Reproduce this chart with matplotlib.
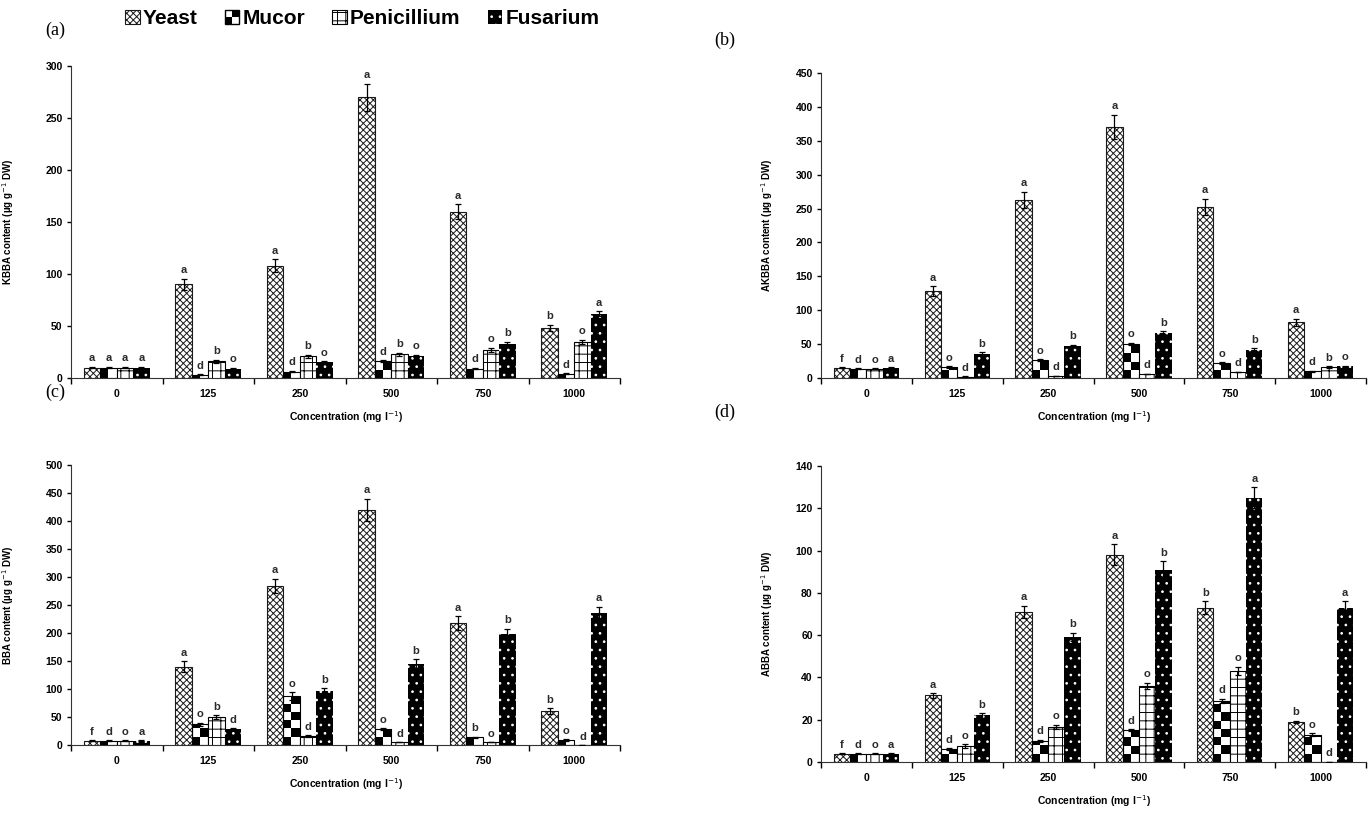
import numpy as np
import matplotlib
matplotlib.use("Agg")
import matplotlib.pyplot as plt
from matplotlib.patches import Rectangle
from matplotlib.legend_handler import HandlerBase

plt.rcParams['font.family'] = ['Liberation Sans', 'DejaVu Sans']
plt.rcParams['hatch.linewidth'] = 0.7

# categories
conc = ['0', '125', '250', '500', '750', '1000']
fungi = ['Yeast', 'Mucor', 'Penicillium', 'Fusarium']

# (a) KBBA
kbba_vals = [
    [10, 90, 108, 270, 160, 48],
    [10, 3, 6, 16, 9, 4],
    [10, 16, 21, 23, 27, 35],
    [10, 9, 15, 21, 33, 62],
]
kbba_err = [
    [0.5, 5, 6, 13, 7, 3],
    [0.5, 0.5, 0.5, 1, 0.5, 0.5],
    [0.5, 1.5, 1.5, 1.5, 2, 2],
    [0.5, 0.5, 1, 1, 1.5, 2],
]
kbba_let = [
    ['a', 'a', 'a', 'a', 'a', 'b'],
    ['a', 'd', 'd', 'd', 'd', 'd'],
    ['a', 'b', 'b', 'b', 'o', 'o'],
    ['a', 'o', 'o', 'o', 'b', 'a'],
]

# (b) AKBBA
akbba_vals = [
    [15, 128, 263, 370, 252, 82],
    [14, 16, 26, 50, 22, 10],
    [14, 2, 3, 6, 9, 16],
    [15, 36, 47, 67, 42, 17],
]
akbba_err = [
    [0.5, 7, 12, 18, 12, 5],
    [0.5, 1, 1.5, 2, 1, 0.5],
    [0.5, 0.3, 0.3, 0.5, 0.5, 1],
    [0.5, 2, 2, 2, 2, 1],
]
akbba_let = [
    ['f', 'a', 'a', 'a', 'a', 'a'],
    ['d', 'o', 'o', 'o', 'o', 'd'],
    ['o', 'd', 'd', 'd', 'd', 'b'],
    ['a', 'b', 'b', 'b', 'b', 'o'],
]

# (c) BBA
bba_vals = [
    [8, 140, 284, 420, 218, 61],
    [8, 37, 87, 28, 14, 9],
    [8, 50, 16, 5, 5, 0],
    [8, 28, 96, 145, 198, 235],
]
bba_err = [
    [0.5, 10, 13, 20, 12, 5],
    [0.5, 3, 7, 2, 1, 1],
    [0.5, 3, 2, 0.5, 0.5, 0],
    [0.5, 2, 5, 8, 10, 12],
]
bba_let = [
    ['f', 'a', 'a', 'a', 'a', 'b'],
    ['d', 'o', 'o', 'o', 'b', 'o'],
    ['o', 'b', 'd', 'd', 'o', 'd'],
    ['a', 'd', 'b', 'b', 'b', 'a'],
]

# (d) ABBA
abba_vals = [
    [4, 31.5, 71, 98, 73, 19],
    [4, 6, 10, 15, 29, 13],
    [4, 7.5, 16.5, 36, 43, 0],
    [4, 22, 59, 91, 125, 73],
]
abba_err = [
    [0.2, 1, 3, 5, 3, 0.5],
    [0.2, 0.5, 0.5, 0.5, 1, 0.5],
    [0.2, 0.8, 1, 1.5, 2, 0],
    [0.2, 1, 2, 4, 5, 3],
]
abba_let = [
    ['f', 'a', 'a', 'a', 'b', 'b'],
    ['d', 'd', 'd', 'd', 'd', 'o'],
    ['o', 'o', 'o', 'o', 'o', 'd'],
    ['a', 'b', 'b', 'b', 'a', 'a'],
]

styles = {
    'Yeast': dict(fc='white', ec='#1a1a1a', hatch='xxxxx', lw=0.8),
    'Mucor': dict(fc='none', ec='black', hatch=None, lw=0.8),
    'Penicillium': dict(fc='white', ec='black', hatch='++', lw=0.8),
    'Fusarium': dict(fc='black', ec='white', hatch='..', lw=0),
}

tick_font = dict(family=['Liberation Sans', 'DejaVu Sans'], weight='bold', size=7.5)


def add_checker(ax, rect):
    # checkerboard fill for Mucor bars, clipped to the bar
    h = rect.get_height()
    if h <= 0:
        return
    x0, wd = rect.get_x(), rect.get_width()
    o = ax.transData.transform((0, 0))
    px_y = ax.transData.transform((0, 1))[1] - o[1]
    px_w = ax.transData.transform((wd, 0))[0] - o[0]
    sq = (px_w / 2) / px_y
    rows = int(np.ceil(h / sq))
    board = np.add.outer(np.arange(rows), np.arange(2)) % 2
    im = ax.imshow(board, extent=(x0, x0 + wd, 0, rows * sq), origin='lower',
                   cmap='gray', vmin=0, vmax=1, interpolation='nearest',
                   aspect='auto', zorder=2)
    im.set_clip_path(rect)


def draw_panel(ax, vals, errs, letters, ymax, ystep, ylabel, lab_x):
    n = len(conc)
    x = np.arange(n)
    w = 0.18
    offsets = (np.arange(len(fungi)) - 1.5) * w
    ax.set_xlim(-0.5, n - 0.5)
    ax.set_ylim(0, ymax)
    conts = []
    for i, name in enumerate(fungi):
        st = styles[name]
        bc = ax.bar(x + offsets[i], vals[i], w, yerr=errs[i], facecolor=st['fc'],
                    edgecolor=st['ec'], hatch=st['hatch'], linewidth=st['lw'],
                    zorder=3, label=name,
                    error_kw=dict(ecolor='black', elinewidth=0.9, capsize=2.5,
                                  capthick=0.9, zorder=4))
        conts.append(bc)
        if name == 'Mucor':
            for r in bc:
                add_checker(ax, r)
        for j in range(n):
            ax.text(x[j] + offsets[i], vals[i][j] + errs[i][j] + ymax * 0.012,
                    letters[i][j], ha='center', va='bottom', fontsize=8,
                    fontweight='bold', color='#2a2a2a')
    ax.set_yticks(np.arange(0, ymax + 1, ystep))
    ax.set_xticks(x)
    ax.set_xticklabels(conc)
    ax.set_xticks(np.arange(-0.5, n, 1), minor=True)
    ax.tick_params(axis='x', which='major', length=0, pad=8)
    ax.tick_params(axis='x', which='minor', length=4, direction='out', width=1)
    ax.tick_params(axis='y', length=3, direction='out', width=1, pad=3)
    for lbl in ax.get_xticklabels() + ax.get_yticklabels():
        lbl.set_fontproperties(matplotlib.font_manager.FontProperties(**tick_font))
    ax.spines['top'].set_visible(False)
    ax.spines['right'].set_visible(False)
    ax.spines['left'].set_color('#333333')
    ax.spines['bottom'].set_color('#333333')
    ax.set_ylabel(ylabel, fontsize=7, fontweight='bold')
    ax.yaxis.set_label_coords(lab_x, 0.5)
    ax.set_xlabel('Concentration (mg l$^{-1}$)', fontsize=7.5, fontweight='bold',
                  labelpad=7)
    return conts


fig = plt.figure(figsize=(13.72, 8.18), dpi=100)
W, H = 1372.0, 818.0


def make_ax(l, r, t, b):
    return fig.add_axes([l / W, 1 - b / H, (r - l) / W, (b - t) / H])


ax_a = make_ax(71, 620, 66, 378)
ax_b = make_ax(821, 1366, 73, 378)
ax_c = make_ax(71, 620, 465, 745)
ax_d = make_ax(821, 1366, 466, 762)

conts = draw_panel(ax_a, kbba_vals, kbba_err, kbba_let, 300, 50,
                   'KBBA content (µg g$^{-1}$ DW)', -0.1)
draw_panel(ax_b, akbba_vals, akbba_err, akbba_let, 450, 50,
           'AKBBA content (µg g$^{-1}$ DW)', -0.085)
draw_panel(ax_c, bba_vals, bba_err, bba_let, 500, 50,
           'BBA content (µg g$^{-1}$ DW)', -0.1)
draw_panel(ax_d, abba_vals, abba_err, abba_let, 140, 20,
           'ABBA content (µg g$^{-1}$ DW)', -0.085)

for lab, (px, py) in zip(['(a)', '(b)', '(c)', '(d)'],
                         [(55, 30), (725, 40), (55, 392), (725, 412)]):
    fig.text(px / W, 1 - py / H, lab, family=['Liberation Serif', 'DejaVu Serif'],
             fontsize=13, ha='center', va='center')


class CheckerHandler(HandlerBase):
    def create_artists(self, legend, orig_handle, xdescent, ydescent, width,
                       height, fontsize, trans):
        x0, y0 = -xdescent, -ydescent
        hw, hh = width / 2, height / 2
        arts = []
        for i in range(2):
            for j in range(2):
                c = 'black' if (i + j) % 2 == 0 else 'white'
                arts.append(Rectangle((x0 + i * hw, y0 + j * hh), hw, hh,
                                      facecolor=c, edgecolor='none', transform=trans))
        arts.append(Rectangle((x0, y0), width, height, facecolor='none',
                              edgecolor='black', lw=1, transform=trans))
        return arts


fig.legend(conts, fungi, loc='center', bbox_to_anchor=(0.264, 0.977), ncol=4,
           frameon=False, prop=dict(weight='bold', size=15), handlelength=0.7,
           handleheight=0.7, handletextpad=0.15, columnspacing=1.3,
           handler_map={conts[1]: CheckerHandler()})

fig.savefig('out.png', dpi=100)
